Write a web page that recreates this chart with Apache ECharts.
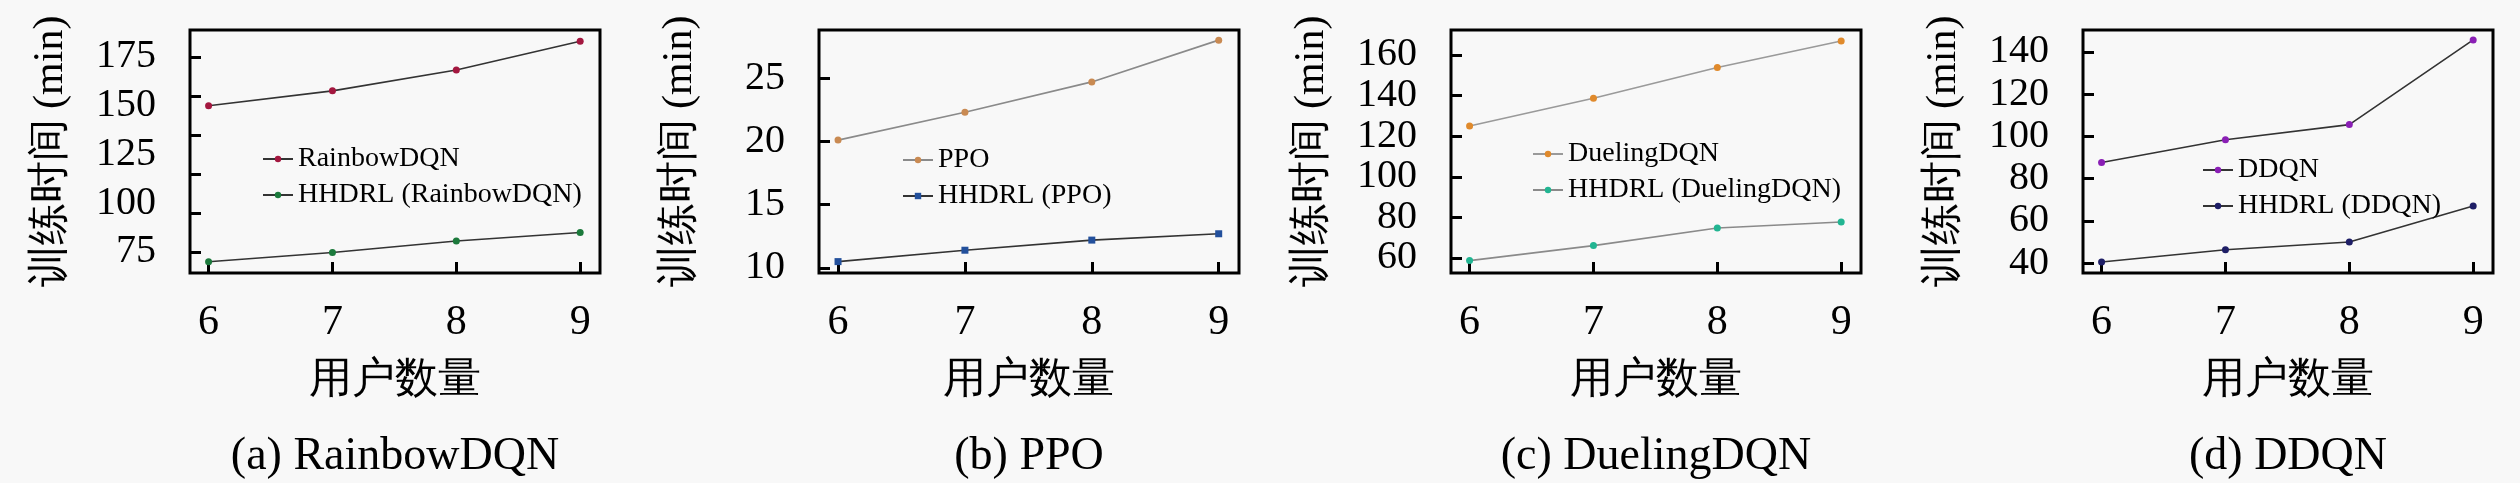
<!DOCTYPE html>
<html>
<head>
<meta charset="utf-8">
<script src="https://cdn.jsdelivr.net/npm/echarts@6/dist/echarts.min.js"></script>
<style>
  html, body { margin: 0; padding: 0; background: #f8f8f8; }
  #chart { width: 2520px; height: 483px; }
</style>
</head>
<body>
<div id="chart"></div>
<script>
// user counts on the x axis
const users = [6, 7, 8, 9];

// training time (min)
const rainbow = [150, 157.6, 168.3, 183];
const hhdrlRainbow = [70, 74.7, 80.6, 85];
const ppo = [20.1, 22.3, 24.7, 28];
const hhdrlPpo = [10.5, 11.4, 12.2, 12.7];
const dueling = [125, 138.7, 153.8, 166.9];
const hhdrlDueling = [58.7, 66.1, 74.8, 77.7];
const ddqn = [87.6, 98.4, 105.6, 145.7];
const hhdrlDdqn = [40.5, 46.3, 50, 67];

// y tick labels per panel, and where the little tick marks sit
const yLabelsA = [75, 100, 125, 150, 175];
const yMarksA = [75, 95, 115, 135, 155, 175];
const yLabelsB = [10, 15, 20, 25];
const yLabelsC = [60, 80, 100, 120, 140, 160];
const yLabelsD = [40, 60, 80, 100, 120, 140];

const captions = ['(a) RainbowDQN', '(b) PPO', '(c) DuelingDQN', '(d) DDQN'];
const yName = '训练时间 (min)';
const xName = '用户数量';

const serif = 'Liberation Serif';

const panels = [
  { left: 190, width: 410, min: 64.2, max: 188.8, labels: yLabelsA, marks: yMarksA,
    legend: { left: 257, top: 140 },
    lines: [
      { name: 'RainbowDQN', data: rainbow, line: '#333', dot: '#a3173f', symbol: 'circle' },
      { name: 'HHDRL (RainbowDQN)', data: hhdrlRainbow, line: '#333', dot: '#1c7a3c', symbol: 'circle' }
    ] },
  { left: 819, width: 420, min: 9.6, max: 28.8, labels: yLabelsB, marks: yLabelsB,
    legend: { left: 897, top: 141 },
    lines: [
      { name: 'PPO', data: ppo, line: '#8a8a8a', dot: '#c98a52', symbol: 'circle' },
      { name: 'HHDRL (PPO)', data: hhdrlPpo, line: '#333', dot: '#23509c', symbol: 'rect' }
    ] },
  { left: 1451, width: 410, min: 52.6, max: 172.3, labels: yLabelsC, marks: yLabelsC,
    legend: { left: 1527, top: 135 },
    lines: [
      { name: 'DuelingDQN', data: dueling, line: '#9a9a9a', dot: '#e08a2c', symbol: 'circle' },
      { name: 'HHDRL (DuelingDQN)', data: hhdrlDueling, line: '#8a8a8a', dot: '#22b592', symbol: 'circle' }
    ] },
  { left: 2083, width: 410, min: 35.3, max: 150.4, labels: yLabelsD, marks: yLabelsD,
    legend: { left: 2197, top: 151 },
    lines: [
      { name: 'DDQN', data: ddqn, line: '#333', dot: '#8a1fb5', symbol: 'circle' },
      { name: 'HHDRL (DDQN)', data: hhdrlDdqn, line: '#333', dot: '#1e1e66', symbol: 'circle' }
    ] }
];

const chart = echarts.init(document.getElementById('chart'));

const grid = [], xAxis = [], yAxis = [], series = [], legend = [], graphic = [];

panels.forEach((p, i) => {
  grid.push({
    left: p.left, top: 30, width: p.width, height: 243,
    show: true, borderColor: '#000', borderWidth: 3, containLabel: false
  });
  xAxis.push({
    type: 'value', gridIndex: i, min: 5.85, max: 9.16,
    name: xName, nameLocation: 'middle', nameGap: 86,
    nameTextStyle: { fontFamily: serif, fontSize: 43, color: '#000' },
    axisLine: { show: false },
    axisTick: { show: true, inside: true, length: 11, customValues: users,
      lineStyle: { color: '#000', width: 3 } },
    axisLabel: { customValues: users, margin: 29, fontFamily: serif, fontSize: 42, color: '#000',
      showMinLabel: true, showMaxLabel: true, hideOverlap: false },
    splitLine: { show: false }
  });
  yAxis.push({
    type: 'value', gridIndex: i, min: p.min, max: p.max,
    name: yName, nameLocation: 'middle', nameGap: 118, nameRotate: 90,
    nameTextStyle: { fontFamily: serif, fontSize: 42, color: '#000' },
    axisLine: { show: false },
    axisTick: { show: true, inside: true, length: 11, customValues: p.marks,
      lineStyle: { color: '#000', width: 3 } },
    axisLabel: { customValues: p.labels, margin: 34, fontFamily: serif, fontSize: 40, color: '#000',
      showMinLabel: true, showMaxLabel: true, hideOverlap: false, lineHeight: 36 },
    splitLine: { show: false }
  });
  p.lines.forEach(s => {
    series.push({
      type: 'line', name: s.name, xAxisIndex: i, yAxisIndex: i,
      data: users.map((u, k) => [u, s.data[k]]),
      symbol: s.symbol, symbolSize: 7,
      lineStyle: { color: s.line, width: 1.6 },
      itemStyle: { color: s.dot },
      z: 3
    });
  });
  legend.push({
    data: p.lines.map(s => s.name),
    orient: 'vertical', left: p.legend.left, top: p.legend.top,
    itemWidth: 30, itemHeight: 8, itemGap: 8,
    textStyle: { fontFamily: serif, fontSize: 28, color: '#000', lineHeight: 27 }
  });
  graphic.push({
    type: 'text', x: p.left + p.width / 2, y: 457,
    style: { text: captions[i], font: "46px 'Liberation Serif', serif",
      fill: '#000', textAlign: 'center', textVerticalAlign: 'middle' }
  });
});

chart.setOption({
  backgroundColor: '#f8f8f8',
  animation: false,
  grid, xAxis, yAxis, series, legend, graphic
});
</script>
</body>
</html>
